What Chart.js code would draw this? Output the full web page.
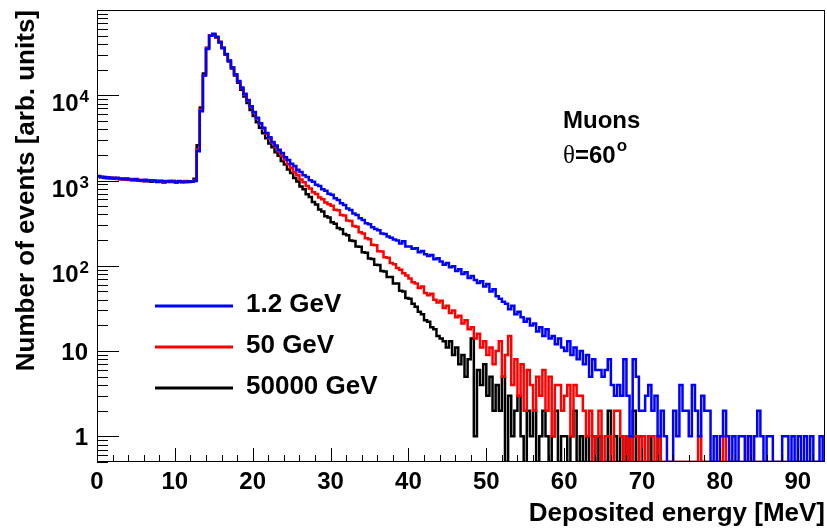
<!DOCTYPE html>
<html lang="en">
<head>
<meta charset="UTF-8">
<title>Deposited energy - muons at 60 degrees</title>
<script src="https://cdn.jsdelivr.net/npm/chart.js"></script>
<style>
  html, body { margin: 0; padding: 0; background: #ffffff; }
  .chart-box { width: 827px; height: 530px; position: relative; }
</style>
</head>
<body>
<div class="chart-box"><canvas id="edepChart"></canvas></div>

<script>
// histogram bins: 0.4 MeV wide, first bin starts at 0 MeV
const binWidth = 0.4;

const seriesLabels = ['1.2 GeV', '50 GeV', '50000 GeV'];
const seriesColors = ['#0000ff', '#ff0000', '#000000'];

// counts per bin
const counts1p2GeV = [
  1120,1100,1080,1095,1070,1060,1075,1050,1040,1055,
  1030,1020,1040,1010,1000,1020,990,1005,985,970,
  995,980,965,990,975,960,985,970,960,980,
  965,990,2200,6500,17000,35000,50000,52500,48500,42000,
  36000,30500,25600,21200,17600,14700,12300,10400,8800,7450,
  6350,5450,4700,4150,3620,3210,2830,2580,2290,2100,
  1870,1740,1570,1480,1340,1260,1150,1100,1010,970,
  890,860,790,760,700,680,618,592,540,515,
  470,452,410,395,362,345,315,308,283,270,
  262,240,236,220,214,203,198,182,194,168,
  168,158,161,144,149,137,130,134,119,123,
  112,103,108,96,99,87,91,80,84,72,
  76,68,63,66,57,61,50,53,44,41,
  38,36,31,34,27,29,25,22,24,20,
  21,17,19,15,18,14,15,12,14,11,
  10,13,9,11,8,10,7,9,5,8,
  6,6,5,6,8,4,3,4,3,8,
  3,1,8,5,2,2,3,4,2,3,
  1,2,1,0,0,2,1,4,2,2,
  1,4,2,1,3,2,2,0,1,0,
  1,2,1,0,1,0,1,1,0,1,
  0,1,2,1,0,1,1,0,0,0,
  1,1,0,1,0,1,0,1,0,1,
  0,0,1,0
];

const counts50GeV = [
  1100,1110,1070,1085,1060,1075,1045,1060,1030,1045,
  1015,1035,1000,1020,990,1010,1000,985,1010,975,
  990,965,985,970,995,965,980,960,985,970,
  980,1000,2300,6700,17200,35500,50500,52000,48000,42300,
  36200,30300,25400,21300,17500,14500,12100,10200,8650,7350,
  6250,5350,4620,4050,3540,3120,2760,2480,2190,1940,
  1755,1550,1410,1250,1150,1030,955,862,808,731,
  694,632,604,552,528,505,455,448,395,388,
  340,335,292,288,248,240,210,205,176,174,
  148,147,126,124,108,104,94,90,82,77,
  71,64,62,55,57,48,45,47,40,37,
  39,32,34,28,30,25,26,21,23,18,
  19,14,16,11,13,9,11,7,10,13,
  5,9,15,4,8,3,7,2,6,4,
  2,5,3,6,2,5,1,4,4,2,
  3,4,1,4,3,3,2,1,2,0,
  1,2,0,1,1,0,2,2,1,0,
  1,0,1,1,0,1,0,1,1,0,
  1,0,0,0,0,0,0,0,0,0,
  0,0,0,1,0,0,0,0,0,0,
  0,1,0,0,0,0,0,0,0,1,
  0,0,0,0,0,0,0,0,0,0,
  0,0,0,0,0,0,0,0,0,0,
  0,0,0,0
];

const counts50000GeV = [
  1130,1090,1100,1065,1080,1050,1065,1035,1050,1020,
  1040,1005,1025,995,1010,980,1000,970,995,960,
  975,950,980,960,970,950,975,955,970,960,
  975,1050,2600,7200,18000,36000,50500,51500,47500,41500,
  35500,29800,24900,20600,17000,14000,11600,9700,8100,6700,
  5720,4830,4170,3580,3140,2720,2460,2150,1950,1700,
  1545,1350,1225,1070,975,850,790,690,640,560,
  525,458,432,382,368,325,312,278,268,236,
  228,198,196,168,167,144,142,122,120,103,
  102,87,86,74,74,62,62,51,50,42,
  41,36,33,29,27,23,22,19,18,15,
  14,13,11,13,9,11,7,9,5,8,
  14,1,6,4,7,3,5,2,4,2,
  5,0,3,1,2,3,1,0,2,1,
  2,0,1,2,1,0,1,2,0,1,
  1,0,1,2,0,1,0,1,0,1,
  0,1,0,0,2,0,1,0,1,0,
  1,0,2,0,1,0,0,1,0,0,
  1,0,0,0,0,0,0,0,0,0,
  0,0,0,0,0,0,0,0,0,0,
  0,0,0,0,0,0,0,0,0,0,
  0,0,0,0,0,0,0,0,0,0,
  0,0,0,0,0,0,0,0,0,0,
  0,0,0,0
];

const xTickValues = [0, 10, 20, 30, 40, 50, 60, 70, 80, 90];
const yTickValues = [1, 10, 100, 1000, 10000];
const yTickBase = ['1', '10', '10', '10', '10'];
const yTickExp = ['', '', '2', '3', '4'];

const X_MIN = 0, X_MAX = 93.5;
const Y_MIN = 0.5, Y_MAX = 100000;

const FONT = '"Liberation Sans", Arial, Helvetica, sans-serif';

// bin contents -> step points (left edge of every bin + closing edge)
function toSteps(counts) {
    const pts = counts.map((v, i) => ({ x: i * binWidth, y: v > 0 ? v : Y_MIN }));
    const last = counts[counts.length - 1];
    pts.push({ x: counts.length * binWidth, y: last > 0 ? last : Y_MIN });
    return pts;
}

const allCounts = [counts1p2GeV, counts50GeV, counts50000GeV];

// ROOT-like frame, ticks, labels and texts
const rootFrame = {
    id: 'rootFrame',
    afterDraw(chart) {
        const ctx = chart.ctx;
        const a = chart.chartArea;
        const xs = chart.scales.x;
        const ys = chart.scales.y;
        const L = Math.round(a.left), R = Math.round(a.right);
        const T = Math.round(a.top), B = Math.round(a.bottom);

        ctx.save();
        ctx.strokeStyle = '#000000';
        ctx.lineWidth = 1;
        ctx.strokeRect(L + 0.5, T + 0.5, R - L - 1, B - T - 1);

        // x ticks: majors every 10, minors every 2
        ctx.beginPath();
        for (let v = X_MIN; v <= X_MAX; v += 2) {
            const px = Math.round(xs.getPixelForValue(v)) + 0.5;
            const len = (v % 10 === 0) ? 14 : 7;
            ctx.moveTo(px, B);
            ctx.lineTo(px, B - len);
        }
        // y ticks: decades + 2..9 minors
        for (let d = 0.1; d <= Y_MAX; d *= 10) {
            for (let m = 1; m <= 9; m++) {
                const v = Math.round(d * m * 10) / 10;
                if (v < Y_MIN || v > Y_MAX) continue;
                const py = Math.round(ys.getPixelForValue(v)) + 0.5;
                const len = (m === 1) ? 22 : 11;
                ctx.moveTo(L, py);
                ctx.lineTo(L + len, py);
            }
        }
        ctx.stroke();

        ctx.fillStyle = '#000000';
        // x tick labels
        ctx.font = 'bold 24px ' + FONT;
        ctx.textAlign = 'center';
        ctx.textBaseline = 'alphabetic';
        xTickValues.forEach(v => {
            ctx.fillText(String(v), xs.getPixelForValue(v), 489);
        });

        // y tick labels (with exponents)
        ctx.textAlign = 'right';
        yTickValues.forEach((v, i) => {
            const py = ys.getPixelForValue(v);
            const exp = yTickExp[i];
            if (!exp) {
                ctx.font = 'bold 24px ' + FONT;
                ctx.fillText(yTickBase[i], 88, py + 9);
            } else {
                ctx.font = 'bold 17px ' + FONT;
                const ew = ctx.measureText(exp).width;
                ctx.fillText(exp, 89, py + 7);
                ctx.font = 'bold 24px ' + FONT;
                ctx.fillText(yTickBase[i], 89 - ew - 1, py + 16);
            }
        });

        // axis titles
        ctx.font = 'bold 26px ' + FONT;
        ctx.textAlign = 'right';
        ctx.fillText('Deposited energy [MeV]', R, 521);
        ctx.save();
        ctx.translate(34, T);
        ctx.rotate(-Math.PI / 2);
        ctx.textAlign = 'right';
        ctx.fillText('Number of events [arb. units]', 0, 0);
        ctx.restore();

        // legend
        const legendY = [305, 346, 387];
        seriesLabels.forEach((lab, i) => {
            ctx.strokeStyle = seriesColors[i];
            ctx.lineWidth = 3;
            ctx.beginPath();
            ctx.moveTo(155, legendY[i] + 1);
            ctx.lineTo(233, legendY[i] + 1);
            ctx.stroke();
            ctx.font = 'bold 26px ' + FONT;
            ctx.textAlign = 'left';
            ctx.textBaseline = 'middle';
            ctx.fillStyle = '#000000';
            ctx.fillText(lab, 246, legendY[i]);
        });

        // annotation
        ctx.textBaseline = 'alphabetic';
        ctx.textAlign = 'left';
        ctx.font = 'bold 24px ' + FONT;
        ctx.fillText('Muons', 563, 128);
        ctx.font = '25px "Liberation Serif", "DejaVu Serif", serif';
        ctx.fillText('\u03b8', 563, 163);
        let tx = 563 + ctx.measureText('\u03b8').width;
        ctx.font = 'bold 24px ' + FONT;
        ctx.fillText('=60', tx, 163);
        tx += ctx.measureText('=60').width + 1;
        ctx.font = 'bold 17px ' + FONT;
        ctx.fillText('o', tx, 151);

        ctx.restore();
    }
};

const ctx = document.getElementById('edepChart').getContext('2d');
const edepChart = new Chart(ctx, {
    type: 'line',
    data: {
        datasets: allCounts.map((c, i) => ({
            label: seriesLabels[i],
            data: toSteps(c),
            borderColor: seriesColors[i],
            backgroundColor: seriesColors[i],
            borderWidth: 2.5,
            stepped: 'before',
            fill: false,
            pointRadius: 0,
            order: i   // blue drawn last (on top)
        }))
    },
    options: {
        responsive: true,
        maintainAspectRatio: false,
        animation: false,
        layout: { padding: { left: 97, right: 2, top: 10, bottom: 68 } },
        scales: {
            x: { type: 'linear', min: X_MIN, max: X_MAX, display: false },
            y: { type: 'logarithmic', min: Y_MIN, max: Y_MAX, display: false, bounds: 'data' }
        },
        plugins: {
            legend: { display: false },
            tooltip: { enabled: false }
        }
    },
    plugins: [rootFrame]
});
</script>
</body>
</html>
